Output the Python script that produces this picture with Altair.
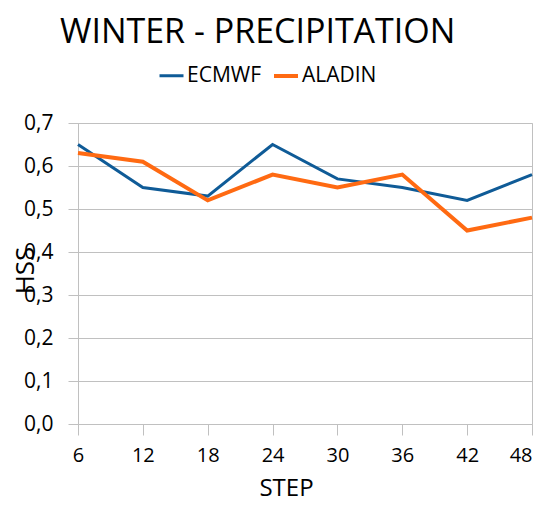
import altair as alt
import pandas as pd

steps = [6, 12, 18, 24, 30, 36, 42, 48]
ecmwf = [0.65, 0.55, 0.53, 0.65, 0.57, 0.55, 0.52, 0.58]
aladin = [0.63, 0.61, 0.52, 0.58, 0.55, 0.58, 0.45, 0.48]
series_names = ["ECMWF", "ALADIN"]
series_colors = ["#0f5b97", "#ff6a12"]
series_widths = [3, 4]
y_ticks = [0.0, 0.1, 0.2, 0.3, 0.4, 0.5, 0.6, 0.7]

rows = []
for s, e, a in zip(steps, ecmwf, aladin):
    rows.append({"STEP": s, "HSS": e, "model": "ECMWF"})
    rows.append({"STEP": s, "HSS": a, "model": "ALADIN"})
df = pd.DataFrame(rows)

FONT = "Open Sans"
GRID = "#c0c0c0"

chart = alt.Chart(df).mark_line().encode(
    x=alt.X("STEP:Q",
            scale=alt.Scale(domain=[6, 48], nice=False, zero=False),
            axis=alt.Axis(values=steps, title="STEP", grid=False, labelFlush=False,
                          labelAlign=alt.ExprRef("datum.value == 48 ? 'right' : 'center'"),
                          domainColor=GRID, tickColor=GRID, tickSize=11,
                          labelPadding=10, labelFontSize=20, labelColor="#000",
                          titleFontSize=24, titleFontWeight="normal", titleColor="#000",
                          titleX=208, titleY=71, titleBaseline="alphabetic")),
    y=alt.Y("HSS:Q",
            scale=alt.Scale(domain=[0, 0.7], nice=False),
            axis=alt.Axis(values=y_ticks, format=".1f", title="HSS",
                          labelExpr="replace(datum.label, '.', ',')",
                          gridColor=GRID, domainColor=GRID, tickColor=GRID, tickSize=10,
                          labelPadding=15, labelFontSize=21, labelColor="#000",
                          titleFontSize=26, titleFontWeight="normal", titleColor="#000",
                          titleX=-45, titleY=147, titleAngle=-90, titleBaseline="alphabetic")),
    color=alt.Color("model:N",
                    scale=alt.Scale(domain=series_names, range=series_colors),
                    legend=alt.Legend(title=None, orient="none", direction="horizontal",
                                      legendX=80, legendY=-61, symbolType="stroke",
                                      symbolStrokeWidth=4, symbolSize=576,
                                      labelFontSize=21, labelColor="#000",
                                      columnPadding=4, labelOffset=2)),
    strokeWidth=alt.StrokeWidth("model:N",
                                scale=alt.Scale(domain=series_names, range=series_widths),
                                legend=None),
    order=alt.Order("STEP:Q"),
).properties(
    width=454, height=301,
    title=alt.TitleParams("WINTER - PRECIPITATION", anchor="start", frame="group", dx=-18,
                          fontSize=34, fontWeight="normal", color="#000", offset=12),
    autosize=alt.AutoSizeParams(type="none"),
    padding={"left": 70, "top": 115, "right": 3, "bottom": 75},
).configure(font=FONT).configure_view(stroke=GRID)

chart.save("out.html", embed_options={"renderer": "svg", "actions": False})
